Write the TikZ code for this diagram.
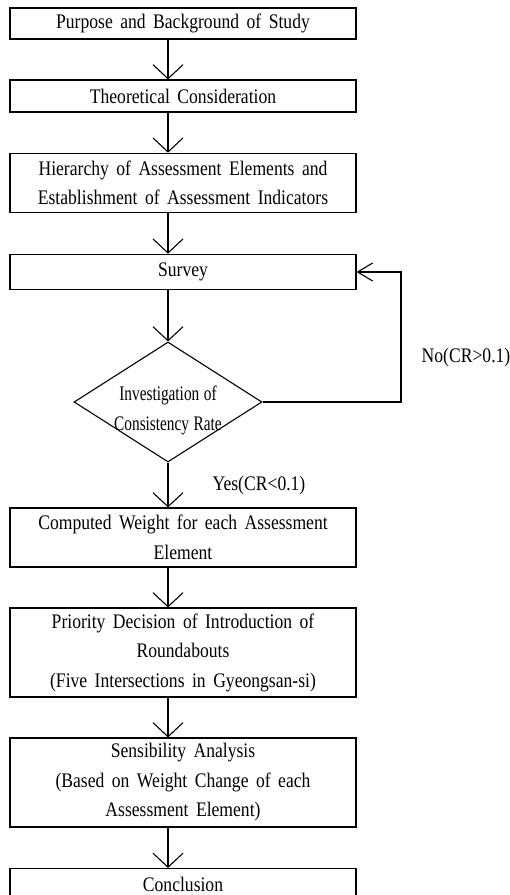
\documentclass[tikz,border=0pt]{standalone}
\usepackage{fontspec}
\setmainfont{Liberation Serif}[FakeStretch=0.85, WordSpace=1.7]
\newfontfamily\diafont{Liberation Serif}[FakeStretch=0.74, WordSpace=1.2]
\usepackage{tikz}
\usetikzlibrary{shapes.geometric, arrows.meta, positioning, calc}
\tikzstyle{block} = [draw, line width=1.1pt, minimum width=346pt, inner sep=0pt, align=center, font=\fontsize{20.7}{29.5}\selectfont]
\tikzstyle{decision} = [diamond, draw, line width=1.1pt, minimum width=188pt, minimum height=120pt, aspect=1.57, inner xsep=0pt, inner ysep=-9pt, align=center, font=\diafont\fontsize{20.7}{30}\selectfont]
\tikzstyle{note} = [inner sep=0pt, font=\fontsize{20.7}{29.5}\selectfont]
\tikzstyle{arrow} = [line width=1.1pt, -{Straight Barb[length=14pt,width=30pt]}]
\tikzstyle{backarrow} = [line width=1.1pt, -{Straight Barb[length=15pt,width=18pt]}]

\begin{document}
\begin{tikzpicture}[x=1pt, y=-1pt]
\useasboundingbox (0,0) rectangle (510,895);
\clip (0,0) rectangle (510,895);

% Steps of the study
\node[block, minimum height=31pt] (purpose) at (183,23.5) {Purpose and Background of Study};
\node[block, minimum height=32pt] (theory) at (183,96) {Theoretical Consideration};
\node[block, minimum height=59.5pt] (hierarchy) at (183,183) {Hierarchy of Assessment Elements and\\Establishment of Assessment Indicators};
\node[block, minimum height=35.5pt] (survey) at (183,272) {Survey};

% Consistency check
\node[decision] (consistency) at (168,402) {\rule{0pt}{32pt}Investigation of\\Consistency Rate};

\node[block, minimum height=59pt] (weight) at (183,537.5) {Computed Weight for each Assessment\\Element};
\node[block, minimum height=89pt] (priority) at (183,652.5) {Priority Decision of Introduction of\\Roundabouts\\(Five Intersections in Gyeongsan-si)};
\node[block, minimum height=89pt] (sensibility) at (183,782.5) {Sensibility Analysis\\(Based on Weight Change of each\\Assessment Element)};
\node[block, minimum height=31pt] (conclusion) at (183,884) {Conclusion};

% Flow lines
\coordinate (axis) at (168,0);
\draw[arrow] (purpose.south -| axis) -- (theory.north -| axis);
\draw[arrow] (theory.south -| axis) -- (hierarchy.north -| axis);
\draw[arrow] (hierarchy.south -| axis) -- (survey.north -| axis);
\draw[arrow] (survey.south -| axis) -- (consistency.north);
\draw[arrow] (consistency.south) -- (weight.north -| axis);
\draw[arrow] (weight.south -| axis) -- (priority.north -| axis);
\draw[arrow] (priority.south -| axis) -- (sensibility.north -| axis);
\draw[arrow] (sensibility.south -| axis) -- (conclusion.north -| axis);

% Feedback loop
\coordinate (loop) at (401,0);
\draw[backarrow] (consistency.east) -- (consistency.east -| loop) -- (survey.east -| loop) -- (survey.east);

% Branch labels
\node[note] (no) at (466,358) {No(CR>0.1)};
\node[note] (yes) at (259,486) {Yes(CR<0.1)};
\end{tikzpicture}
\end{document}
